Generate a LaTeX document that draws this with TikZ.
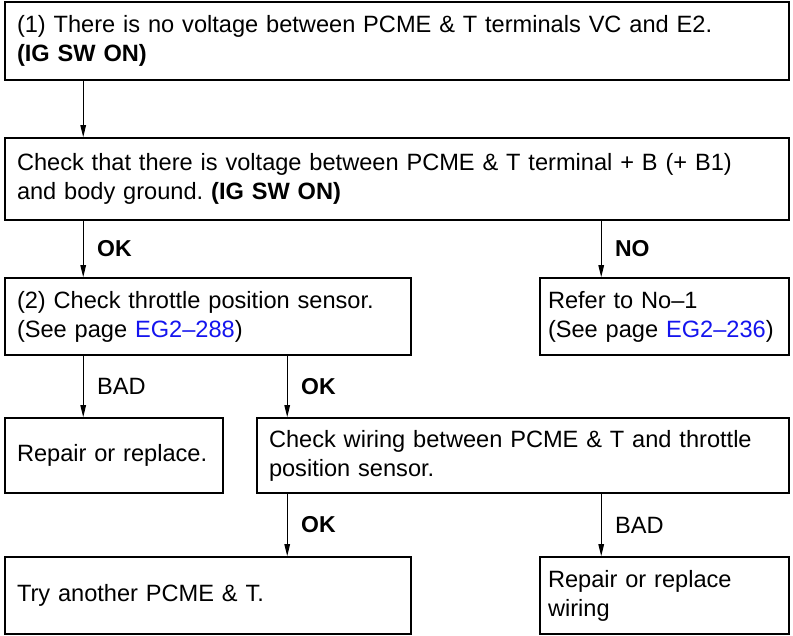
\documentclass[tikz,border=0pt]{standalone}
\usepackage{fontspec}
\setmainfont{Liberation Sans}
\usepackage{xcolor}
\usepackage{tikz}
\usetikzlibrary{arrows.meta,positioning,calc}
\definecolor{DiagInk}{HTML}{000000}
\definecolor{DiagLink}{HTML}{1414EE}
\frenchspacing

\begin{document}
\begin{tikzpicture}[
  x=1pt, y=1pt,
  every node/.style={font=\fontsize{23.6}{29}\selectfont, text=DiagInk},
  stepbox/.style={draw=DiagInk, line width=1.6pt, minimum height=#1, inner xsep=12pt, inner ysep=0pt, align=left},
  stepbox/.default=77pt,
  narrowbox/.style={stepbox, minimum width=249pt, text width=233pt, inner xsep=8pt},
  branch/.style={-{Triangle[length=12pt,width=5.5pt]}, line width=1.2pt, color=DiagInk},
  verdict/.style={right=10pt, font=\fontsize{23}{27}\selectfont\bfseries},
  plain/.style={right=10pt}
]
\useasboundingbox (0,0) rectangle (793,-636);

\node[stepbox=78pt, minimum width=784pt, text width=760pt] (novolt) at (397,-41)
  {(1) There is no voltage between PCME \& T terminals VC and E2.\\\textbf{(IG SW ON)}};
\node[stepbox=82pt, minimum width=784pt, text width=760pt, below=56.4pt of novolt] (battery)
  {Check that there is voltage between PCME \& T terminal + B (+ B1)\\and body ground. \textbf{(IG SW ON)}};

\node[stepbox, minimum width=406pt, text width=382pt, below=56.4pt of battery.south west, anchor=north west] (tps)
  {(2) Check throttle position sensor.\\(See page \textcolor{DiagLink}{EG2--288})};
\node[narrowbox, below=56.4pt of battery.south east, anchor=north east] (referno)
  {Refer to No--1\\(See page \textcolor{DiagLink}{EG2--236})};

\node[stepbox=75pt, minimum width=218pt, text width=194pt, below=61.4pt of tps.south west, anchor=north west] (repair)
  {Repair or replace.};
\node[stepbox=75pt, minimum width=532pt, text width=508pt, below=61.4pt of referno.south east, anchor=north east] (wiring)
  {Check wiring between PCME \& T and throttle\\position sensor.};

\node[stepbox, minimum width=406pt, text width=382pt, below=62.4pt of repair.south west, anchor=north west] (another)
  {Try another PCME \& T.};
\node[narrowbox, below=62.4pt of wiring.south east, anchor=north east] (rewire)
  {Repair or replace\\wiring};

% arrow heads sit on the top edge of each box
\coordinate (batteryin) at ($(battery.north west)+(79,0)$);
\coordinate (tpsin) at ($(tps.north west)+(79,0)$);
\coordinate (referin) at ($(referno.north west)+(62,0)$);
\coordinate (repairin) at ($(repair.north west)+(79,0)$);
\coordinate (wiringin) at ($(wiring.north west)+(31,0)$);
\coordinate (anotherin) at ($(another.north west)+(283,0)$);
\coordinate (rewirein) at ($(rewire.north west)+(62,0)$);

\draw[branch] (batteryin |- novolt.south) -- (batteryin);
\draw[branch] (tpsin |- battery.south) -- node[verdict] {OK} (tpsin);
\draw[branch] (referin |- battery.south) -- node[verdict] {NO} (referin);
\draw[branch] (repairin |- tps.south) -- node[plain] {BAD} (repairin);
\draw[branch] (wiringin |- tps.south) -- node[verdict] {OK} (wiringin);
\draw[branch] (anotherin |- wiring.south) -- node[verdict] {OK} (anotherin);
\draw[branch] (rewirein |- wiring.south) -- node[plain] {BAD} (rewirein);
\end{tikzpicture}
\end{document}
